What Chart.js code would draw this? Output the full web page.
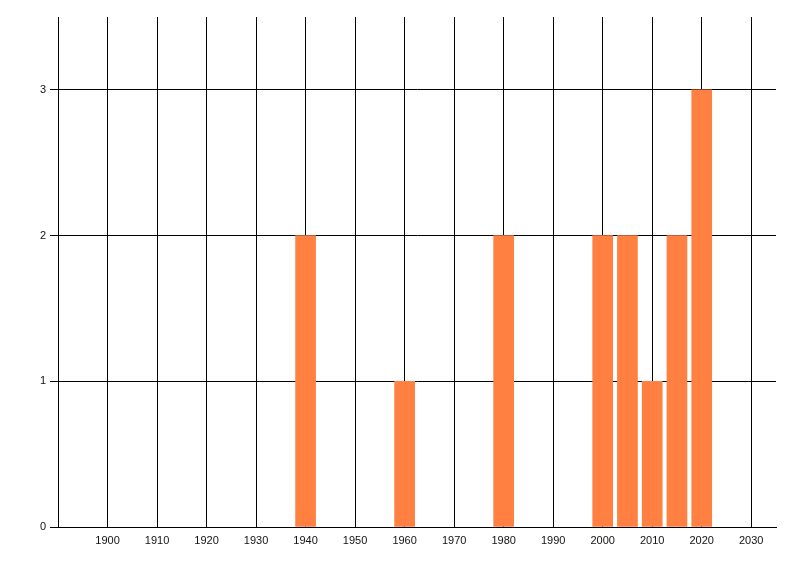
<!DOCTYPE html>
<html>
<head>
<meta charset="utf-8">
<script src="https://cdn.jsdelivr.net/npm/chart.js@4/dist/chart.umd.min.js"></script>
<style>
  body { margin: 0; background: #fff; }
</style>
</head>
<body>
<canvas id="myChart" width="800" height="576"></canvas>
<script>
const years = [1940, 1960, 1980, 2000, 2005, 2010, 2015, 2020]
const counts = [2, 1, 2, 2, 2, 1, 2, 3]
const yTicks = [0, 1, 2, 3]
const xTicks = [1900, 1910, 1920, 1930, 1940, 1950, 1960, 1970, 1980, 1990, 2000, 2010, 2020, 2030]

const points = years.map((y, i) => ({ x: y, y: counts[i] }))

const data = {
    datasets: [{
        data: points,
        backgroundColor: '#FF8040',
        borderWidth: 0,
        barThickness: 20
    }]
}

const config = {
    type: 'bar',
    data: data,
    options: {
        responsive: false,
        animation: false,
        layout: { padding: { top: 17, right: 24, left: 0, bottom: 0 } },
        plugins: { legend: { display: false }, tooltip: { enabled: false } },
        scales: {
            x: {
                type: 'linear',
                min: 1890,
                max: 2035,
                offset: false,
                afterBuildTicks: s => { s.ticks = xTicks.map(v => ({ value: v })) },
                afterFit: s => { s.height = 49 },
                grid: { color: '#000', drawTicks: false, offset: false },
                border: { color: '#000' },
                ticks: {
                    color: '#111', padding: 7,
                    font: { family: 'Liberation Sans', size: 11 },
                    callback: v => String(v)
                }
            },
            y: {
                min: 0,
                max: 3.5,
                afterBuildTicks: s => { s.ticks = yTicks.map(v => ({ value: v })) },
                afterFit: s => { s.width = 58 },
                grid: { color: '#000', tickLength: 8 },
                border: { color: '#000' },
                ticks: { color: '#111', padding: 4, font: { family: 'Liberation Sans', size: 11 } }
            }
        }
    }
}

const myChart = new Chart(document.getElementById('myChart'), config)
</script>
</body>
</html>
